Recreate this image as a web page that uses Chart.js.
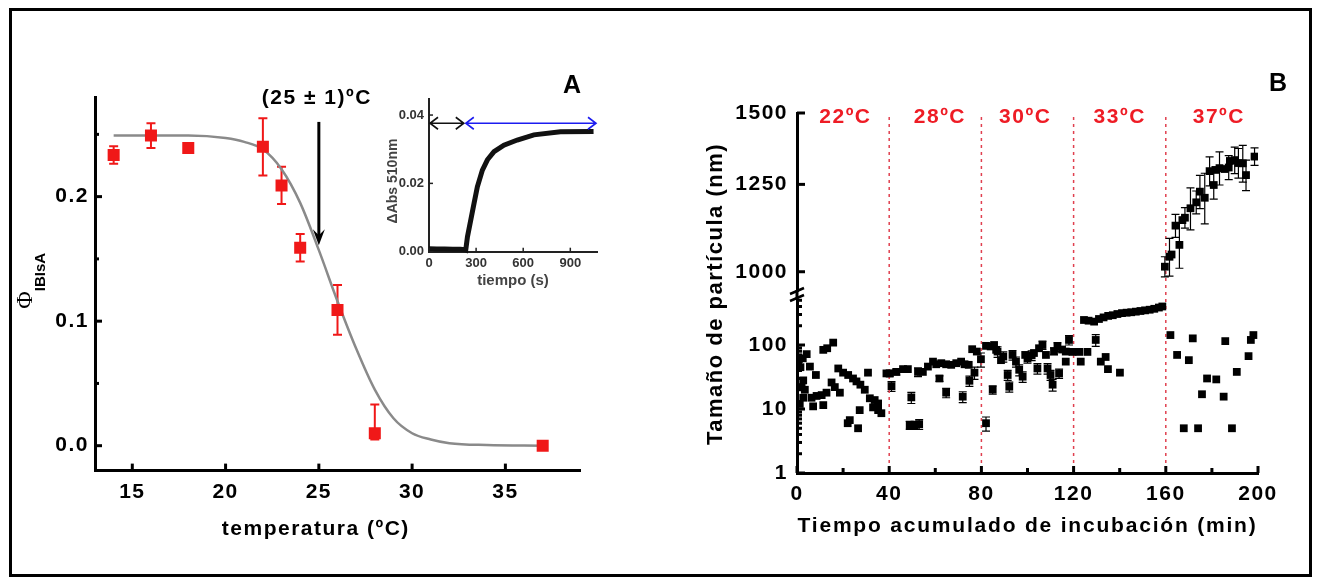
<!DOCTYPE html>
<html>
<head>
<meta charset="utf-8">
<script src="https://cdn.jsdelivr.net/npm/chart.js@4.4.0/dist/chart.umd.min.js"></script>
<style>
html, body { margin: 0; padding: 0; background: #fff; }
#wrap { position: relative; width: 1317px; height: 587px; overflow: hidden; }
#wrap canvas { position: absolute; left: 0; top: 0; }
#frame { position: absolute; left: 9px; top: 8px; width: 1297px; height: 563px; border: 3px solid #000; }
</style>
</head>
<body>
<div id="wrap">
  <div id="frame"></div>
  <canvas id="cA" width="1317" height="587"></canvas>
  <canvas id="cIns" width="1317" height="587"></canvas>
  <canvas id="cBlow" width="1317" height="587"></canvas>
  <canvas id="cBup" width="1317" height="587"></canvas>
</div>
<script>
// ---- panel A : fraccion IBIsA vs temperatura
var aTemp = [14, 16, 18, 22, 23, 24, 26, 28, 37];
var aPhi  = [0.2335, 0.249, 0.239, 0.240, 0.209, 0.159, 0.109, 0.010, 0.0];
var aErr  = [0.007, 0.010, 0, 0.023, 0.015, 0.011, 0.020, 0.023, 0];
// curva ajustada
var aFitT   = [14, 16, 18, 20, 21, 22, 23, 24, 25, 26, 27, 28, 29, 30, 31, 32, 34, 37];
var aFitPhi = [0.249, 0.249, 0.249, 0.247, 0.244, 0.238, 0.222, 0.195, 0.157, 0.116, 0.078, 0.045, 0.022, 0.010, 0.005, 0.002, 0.0005, 0.0];
var aTicksX = [15, 20, 25, 30, 35];
var aTicksY = [0.0, 0.1, 0.2];
var aMinorY = [0.05, 0.15, 0.25];
var aArrow = {t: 25, from: 0.26, to: 0.161, label: '(25 \u00b1 1)\u00baC'};

// ---- inset : Abs 510nm vs tiempo
var insT   = [0, 50, 100, 150, 200, 228, 234, 245, 266, 287, 308, 340, 372, 414, 477, 562, 668, 837, 1048];
var insAbs = [0.0009, 0.0008, 0.0008, 0.0007, 0.0007, 0.0006, 0.0005, 0.0044, 0.0093, 0.0142, 0.019, 0.0239, 0.0269, 0.0293, 0.0312, 0.0327, 0.0342, 0.0351, 0.0352];
var insTicksX = [0, 300, 600, 900];
var insTicksY = [0, 0.02, 0.04];
var insArrowAbs = 0.0376;
var insBlackArrow = [0, 228];
var insBlueArrow = [228, 1070];

// ---- panel B : tamano de particula vs tiempo
var bTempLabels = ['22\u00baC', '28\u00baC', '30\u00baC', '33\u00baC', '37\u00baC'];
var bTempPos = [21, 62, 99, 140, 183];
var bBounds = [40, 80, 120, 160];
var bTicksX = [0, 40, 80, 120, 160, 200];
var bMinorX = [20, 60, 100, 140, 180];
var bUpTicks = [1000, 1250, 1500];
var bLowTicks = [1, 10, 100];
var bLowMinor = [2, 3, 4, 5, 6, 7, 8, 9, 20, 30, 40, 50, 60, 70, 80, 90, 200, 300, 400, 500];

var bLowT = [0.8, 1.2, 1.5, 2.0, 2.5, 2.7, 2.7, 3.4, 4.2, 5.6, 6.3, 7.0, 8.2, 8.5, 10.7, 11.4, 11.4, 12.8, 13.1, 15.0,
  15.7, 16.4, 17.9, 18.6, 20.0, 22.0, 22.2, 22.9, 24.3, 25.8, 26.5, 27.2, 27.5, 29.4, 30.8, 31.6, 33.0, 33.7, 35.2, 35.2,
  36.6, 38.8,
  40.2, 41.0, 43.1, 46.0, 48.1, 48.9, 49.6, 51.0, 52.5, 53.0, 54.6, 56.8, 59.0, 60.4, 61.8, 62.6, 64.7, 64.7, 66.9, 69.1,
  71.2, 71.9, 72.7, 74.5, 74.8, 76.0, 77.0, 78.0, 79.8,
  82.0, 82.0, 84.0, 84.9, 85.5, 86.4, 87.0, 88.5, 89.5, 91.4, 92.1, 93.5, 95.0, 96.4, 97.9, 99.0, 100.0, 101.8, 102.8, 104.3,
  105.0, 106.5, 108.0, 108.7, 110.0, 110.9, 111.5, 113.0, 113.7, 115.0, 116.6, 116.6, 118.0, 119.5, 122.4, 123.1, 124.5, 126.0,
  126.5, 128.9, 129.6, 131.0, 131.8, 133.0, 133.9, 134.9, 135.0, 137.0, 139.0, 140.1, 141.0, 143.0, 145.0, 147.0, 149.0, 151.0,
  153.0, 155.0, 157.0, 158.5,
  162.0, 164.9, 167.8, 170.0, 171.7, 174.0, 175.7, 177.9, 181.9, 185.1, 185.8, 188.7, 190.8, 195.9, 196.9, 198.0];
var bLowNm = [60, 12, 45, 22, 62, 28, 15, 20, 72, 46, 15, 11, 34, 16, 16.5, 84, 11.5, 18, 89, 26,
  109, 22, 43, 18, 37, 6, 34, 6.7, 30, 27, 5, 9.6, 24, 20, 37, 14.7, 10.6, 13.8, 12.2, 9.6,
  8.6, 36,
  36, 22.8, 38, 42, 42, 5.6, 15.2, 5.6, 38, 5.8, 38, 46, 55, 50, 30, 52, 50, 18, 49, 52,
  55, 15.6, 50, 49, 27.6, 86, 37, 79, 60,
  97, 6, 95, 20, 100, 84, 79, 58, 66, 34, 22.3, 70, 55, 41, 32, 70, 62, 69, 75, 43,
  89, 100, 70, 43, 34, 24, 80, 94, 36, 85, 79, 55, 120, 78, 78, 55, 246, 78,
  240, 232, 120, 255, 55, 270, 65, 42, 285, 292, 305, 37, 315, 320, 325, 332, 340, 348,
  356, 368, 385, 400,
  143, 70, 5, 58, 127, 5, 17, 30, 29, 15.6, 115, 5, 38, 67, 120, 143];
var bLowErr = [0, 0, 0, 0, 0, 0, 0, 0, 0, 0, 0, 0, 0, 0, 0, 0, 0, 0, 0, 0,
  0, 0, 0, 0, 0, 0, 0, 0, 0, 0, 0, 0, 0, 0, 0, 0, 0, 0, 0, 0,
  0, 0,
  4, 4, 4, 0, 0, 0.8, 3, 0.8, 6, 1, 0, 0, 0, 0, 3, 0, 0, 3, 0, 0,
  0, 3, 0, 0, 5, 0, 8, 0, 15,
  0, 1.5, 0, 3, 0, 0, 15, 0, 12, 6, 4, 12, 10, 8, 6, 0, 10, 12, 0, 8,
  0, 15, 0, 8, 6, 5, 10, 15, 6, 0, 0, 0, 20, 0, 0, 0, 0, 0,
  0, 0, 25, 0, 0, 0, 0, 0, 0, 0, 0, 0, 0, 0, 0, 0, 0, 0,
  0, 0, 0, 0,
  0, 0, 0, 0, 0, 0, 0, 0, 0, 0, 0, 0, 0, 0, 0, 0];

var bUpT  = [159.6, 161.6, 162.5, 164.2, 165.9, 167.2, 168.3, 170.7, 173.2, 174.8, 176.9, 179.0, 180.8, 181.5, 183.3, 185.5, 187.3, 187.8, 189.9, 191.5, 193.4, 194.8, 198.5];
var bUpNm = [1013, 1039, 1045, 1125, 1071, 1141, 1148, 1176, 1194, 1227, 1208, 1293, 1248, 1297, 1303, 1300, 1305, 1327, 1330, 1320, 1319, 1280, 1342];
var bUpErr = [26, 50, 0, 33, 62, 0, 30, 63, 35, 52, 78, 48, 44, 0, 55, 0, 40, 0, 45, 50, 62, 50, 30];

var FONT = '"Liberation Sans", Arial, sans-serif';
Chart.defaults.font.family = FONT;
Chart.defaults.font.weight = 'bold';
Chart.defaults.font.size = 21;
Chart.defaults.color = '#000';
Chart.defaults.animation = false;
Chart.defaults.events = [];
Chart.defaults.plugins.legend.display = false;
Chart.defaults.plugins.tooltip.enabled = false;

function fixW(w) { return function (s) { s.width = w; }; }
function fixH(h) { return function (s) { s.height = h; }; }
function setTicks(vals) { return function (s) { s.ticks = vals.map(function (v) { return {value: v}; }); }; }
function pts(xs, ys) { return xs.map(function (x, i) { return {x: x, y: ys[i]}; }); }

function txt(ctx, s, x, y, font, color, align, rot, spacing) {
  ctx.save();
  ctx.translate(x, y);
  if (rot) ctx.rotate(rot);
  ctx.font = font;
  ctx.fillStyle = color || '#000';
  ctx.textAlign = align || 'center';
  ctx.textBaseline = 'middle';
  ctx.letterSpacing = spacing || '0px';
  ctx.fillText(s, 0, 0);
  ctx.restore();
}

function spacing(px) {
  return { id: 'spacing', beforeDraw: function (chart) { chart.ctx.letterSpacing = px; } };
}

// ticks hacia adentro
function inTicks(cfg) {
  return {
    id: 'inTicks',
    afterDatasetsDraw: function (chart) {
      var ctx = chart.ctx, a = chart.chartArea;
      ctx.save();
      ctx.strokeStyle = cfg.color || '#000';
      ctx.lineWidth = cfg.width || 3;
      ['x', 'y'].forEach(function (id) {
        var s = chart.scales[id], o = cfg[id];
        if (!s || !o) return;
        var draw = function (vals, len) {
          vals.forEach(function (v) {
            var p = s.getPixelForValue(v);
            ctx.beginPath();
            if (id === 'x') { ctx.moveTo(p, a.bottom); ctx.lineTo(p, a.bottom - len); }
            else { ctx.moveTo(a.left, p); ctx.lineTo(a.left + len, p); }
            ctx.stroke();
          });
        };
        draw(s.ticks.map(function (t) { return t.value; }), o.len);
        if (o.minor) draw(o.minor, o.minorLen);
      });
      ctx.restore();
    }
  };
}

// barras de error
function errBars(color, width, cap) {
  return {
    id: 'errBars',
    beforeDatasetsDraw: function (chart) {
      var ctx = chart.ctx;
      ctx.save();
      ctx.strokeStyle = color;
      ctx.lineWidth = width;
      chart.data.datasets.forEach(function (ds, i) {
        if (!ds.err) return;
        var ys = chart.scales.y;
        var meta = chart.getDatasetMeta(i);
        ds.data.forEach(function (d, j) {
          var e = ds.err[j];
          if (!e) return;
          var x = meta.data[j].x;
          var lo = d.y - e;
          if (lo <= 0) lo = d.y * 0.5;
          var y1 = ys.getPixelForValue(d.y + e), y2 = ys.getPixelForValue(lo);
          ctx.beginPath();
          ctx.moveTo(x, y1); ctx.lineTo(x, y2);
          ctx.moveTo(x - cap, y1); ctx.lineTo(x + cap, y1);
          ctx.moveTo(x - cap, y2); ctx.lineTo(x + cap, y2);
          ctx.stroke();
        });
      });
      ctx.restore();
    }
  };
}

function axisStyle(extra) {
  var o = { grid: {display: false, drawTicks: false}, border: {display: true, width: 3, color: '#000'} };
  for (var k in extra) o[k] = extra[k];
  return o;
}

// ---------- A
var aNotes = {
  id: 'aNotes',
  afterDraw: function (chart) {
    var ctx = chart.ctx, a = chart.chartArea, xs = chart.scales.x, ys = chart.scales.y;
    var px = xs.getPixelForValue(aArrow.t);
    var y1 = ys.getPixelForValue(aArrow.from), y2 = ys.getPixelForValue(aArrow.to);
    ctx.save();
    ctx.strokeStyle = '#000';
    ctx.fillStyle = '#000';
    ctx.lineWidth = 3;
    ctx.beginPath(); ctx.moveTo(px, y1); ctx.lineTo(px, y2 - 8); ctx.stroke();
    ctx.beginPath();
    ctx.moveTo(px - 6, y2 - 16); ctx.lineTo(px, y2); ctx.lineTo(px + 6, y2 - 16); ctx.lineTo(px, y2 - 10);
    ctx.closePath(); ctx.fill();
    ctx.restore();
    txt(ctx, aArrow.label, px - 2, a.top + 1, 'bold 21px ' + FONT, '#000', 'center', 0, '1.5px');
    txt(ctx, 'temperatura (\u00baC)', px - 3, a.bottom + 59, 'bold 21px ' + FONT, '#000', 'center', 0, '1.5px');
    // titulo eje y: Phi sub IBIsA
    ctx.save();
    ctx.translate(a.left - 63, (a.top + a.bottom) / 2 + 25);
    ctx.rotate(-Math.PI / 2);
    ctx.letterSpacing = '0px';
    ctx.fillStyle = '#000';
    ctx.textBaseline = 'alphabetic';
    ctx.textAlign = 'left';
    ctx.font = '24px "Liberation Serif", serif';
    ctx.fillText('\u03a6', 0, 0);
    var w = ctx.measureText('\u03a6').width;
    ctx.font = 'bold 15px ' + FONT;
    ctx.fillText('IBIsA', w, 13);
    ctx.restore();
  }
};

new Chart(document.getElementById('cA'), {
  type: 'scatter',
  data: {
    datasets: [
      { data: pts(aTemp, aPhi), err: aErr, pointStyle: 'rect', pointRadius: 8.5, backgroundColor: '#f01818', borderWidth: 0 },
      { data: pts(aFitT, aFitPhi), showLine: true, pointRadius: 0, borderColor: '#8a8a8a', borderWidth: 2.5, cubicInterpolationMode: 'monotone' }
    ]
  },
  options: {
    responsive: false,
    layout: { padding: { left: 35, top: 97, right: 737, bottom: 76.4 } },
    scales: {
      x: axisStyle({ min: 13, max: 39, afterFit: fixH(40), afterBuildTicks: setTicks(aTicksX), ticks: { padding: 9 } }),
      y: axisStyle({ min: -0.02, max: 0.28, afterFit: fixW(60), afterBuildTicks: setTicks(aTicksY),
        ticks: { padding: 6, callback: function (v) { return Number(v).toFixed(1); } } })
    }
  },
  plugins: [spacing('1.5px'), errBars('#f01818', 2, 4.5), inTicks({ x: {len: 7}, y: {len: 7, minor: aMinorY, minorLen: 4} }), aNotes]
});

// ---------- inset
function dblArrow(ctx, x1, x2, y, color) {
  ctx.save();
  ctx.strokeStyle = color;
  ctx.lineWidth = 1.6;
  ctx.beginPath();
  ctx.moveTo(x1 + 1, y); ctx.lineTo(x2 - 1, y);
  ctx.moveTo(x1 + 9, y - 6); ctx.lineTo(x1 + 1, y); ctx.lineTo(x1 + 9, y + 6);
  ctx.moveTo(x2 - 9, y - 6); ctx.lineTo(x2 - 1, y); ctx.lineTo(x2 - 9, y + 6);
  ctx.stroke();
  ctx.restore();
}
var insNotes = {
  id: 'insNotes',
  afterDraw: function (chart) {
    var ctx = chart.ctx, a = chart.chartArea, xs = chart.scales.x, ys = chart.scales.y;
    var y = ys.getPixelForValue(insArrowAbs);
    dblArrow(ctx, xs.getPixelForValue(insBlackArrow[0]), xs.getPixelForValue(insBlackArrow[1]), y, '#111');
    dblArrow(ctx, xs.getPixelForValue(insBlueArrow[0]), xs.getPixelForValue(insBlueArrow[1]), y, '#1c1cf0');
    txt(ctx, '\u0394Abs 510nm', a.left - 36, a.top + 82, 'bold 14px ' + FONT, '#444', 'center', -Math.PI / 2);
    txt(ctx, 'tiempo (s)', (a.left + a.right) / 2, a.bottom + 29, 'bold 15px ' + FONT, '#444', 'center');
    txt(ctx, 'A', a.right - 25, a.top - 13, 'bold 25px ' + FONT, '#000', 'center');
  }
};

new Chart(document.getElementById('cIns'), {
  type: 'scatter',
  data: {
    datasets: [
      { data: pts(insT, insAbs), showLine: true, pointRadius: 0, borderColor: '#111', borderWidth: 5, tension: 0, clip: false }
    ]
  },
  options: {
    responsive: false,
    layout: { padding: { left: 379, top: 99, right: 720, bottom: 305.3 } },
    scales: {
      x: { min: 0, max: 1070, afterFit: fixH(30), afterBuildTicks: setTicks(insTicksX), grid: {display: false, drawTicks: false},
        border: {display: true, width: 2, color: '#222'}, ticks: { padding: 4, color: '#333', font: {size: 13} } },
      y: { min: 0, max: 0.0447, afterFit: fixW(50), afterBuildTicks: setTicks(insTicksY), grid: {display: false, drawTicks: false},
        border: {display: true, width: 2, color: '#222'},
        ticks: { padding: 5, color: '#333', font: {size: 13}, callback: function (v) { return Number(v).toFixed(2); } } }
    }
  },
  plugins: [spacing('0px'), inTicks({ width: 1.5, color: '#222', x: {len: 4}, y: {len: 4} }), insNotes]
});

// ---------- B inferior (escala log 1-500)
var bLowNotes = {
  id: 'bLowNotes',
  beforeDatasetsDraw: function (chart) {
    var ctx = chart.ctx, a = chart.chartArea, xs = chart.scales.x;
    ctx.save();
    ctx.strokeStyle = '#e0404f';
    ctx.lineWidth = 1.5;
    ctx.setLineDash([3, 4]);
    bBounds.forEach(function (t) {
      var p = xs.getPixelForValue(t);
      ctx.beginPath(); ctx.moveTo(p, 117); ctx.lineTo(p, a.bottom); ctx.stroke();
    });
    ctx.restore();
  },
  afterDraw: function (chart) {
    var ctx = chart.ctx, a = chart.chartArea;
    // corte del eje
    ctx.save();
    ctx.strokeStyle = '#000';
    ctx.lineWidth = 3;
    ctx.beginPath(); ctx.moveTo(a.left, a.top - 10); ctx.lineTo(a.left, a.top); ctx.stroke();
    ctx.lineWidth = 2.5;
    ctx.beginPath();
    ctx.moveTo(a.left - 7, a.top - 6); ctx.lineTo(a.left + 7, a.top - 12);
    ctx.moveTo(a.left - 7, a.top + 1); ctx.lineTo(a.left + 7, a.top - 5);
    ctx.stroke();
    ctx.restore();
    txt(ctx, 'Tama\u00f1o de part\u00edcula (nm)', a.left - 81, a.top - 6, 'bold 22px ' + FONT, '#000', 'center', -Math.PI / 2, '1.5px');
    txt(ctx, 'Tiempo acumulado de incubaci\u00f3n (min)', (a.left + a.right) / 2, a.bottom + 53, 'bold 21px ' + FONT, '#000', 'center', 0, '1.8px');
  }
};

new Chart(document.getElementById('cBlow'), {
  type: 'scatter',
  data: {
    datasets: [
      { data: pts(bLowT, bLowNm), err: bLowErr, pointStyle: 'rect', pointRadius: 5.5, backgroundColor: '#000', borderWidth: 0 }
    ]
  },
  options: {
    responsive: false,
    layout: { padding: { left: 717, top: 300, right: 59, bottom: 74 } },
    scales: {
      x: axisStyle({ min: 0, max: 200, afterFit: fixH(40), afterBuildTicks: setTicks(bTicksX), ticks: { padding: 9 } }),
      y: axisStyle({ type: 'logarithmic', min: 1, max: 505, afterFit: fixW(80), afterBuildTicks: setTicks(bLowTicks),
        ticks: { padding: 9, callback: function (v) { return String(v); } } })
    }
  },
  plugins: [spacing('1.5px'), errBars('#000', 1.2, 4), inTicks({ x: {len: 7, minor: bMinorX, minorLen: 5}, y: {len: 8, minor: bLowMinor, minorLen: 5} }), bLowNotes]
});

// ---------- B superior (escala log 952-1500)
var bUpNotes = {
  id: 'bUpNotes',
  afterDraw: function (chart) {
    var ctx = chart.ctx, a = chart.chartArea, xs = chart.scales.x;
    bTempLabels.forEach(function (s, i) {
      txt(ctx, s, xs.getPixelForValue(bTempPos[i]), a.top + 4, 'bold 21px ' + FONT, '#ee1c25', 'center', 0, '1.5px');
    });
    txt(ctx, 'B', a.right + 20, a.top - 29, 'bold 25px ' + FONT, '#000', 'center');
  }
};

new Chart(document.getElementById('cBup'), {
  type: 'scatter',
  data: {
    datasets: [
      { data: pts(bUpT, bUpNm), err: bUpErr, pointStyle: 'rect', pointRadius: 5.5, backgroundColor: '#000', borderWidth: 0 }
    ]
  },
  options: {
    responsive: false,
    layout: { padding: { left: 717, top: 113, right: 59, bottom: 296 } },
    scales: {
      x: { display: false, min: 0, max: 200 },
      y: axisStyle({ type: 'logarithmic', min: 952, max: 1500, afterFit: fixW(80), afterBuildTicks: setTicks(bUpTicks),
        ticks: { padding: 9, callback: function (v) { return String(v); } } })
    }
  },
  plugins: [spacing('1.5px'), errBars('#000', 1.2, 4), inTicks({ y: {len: 8} }), bUpNotes]
});
</script>
</body>
</html>
